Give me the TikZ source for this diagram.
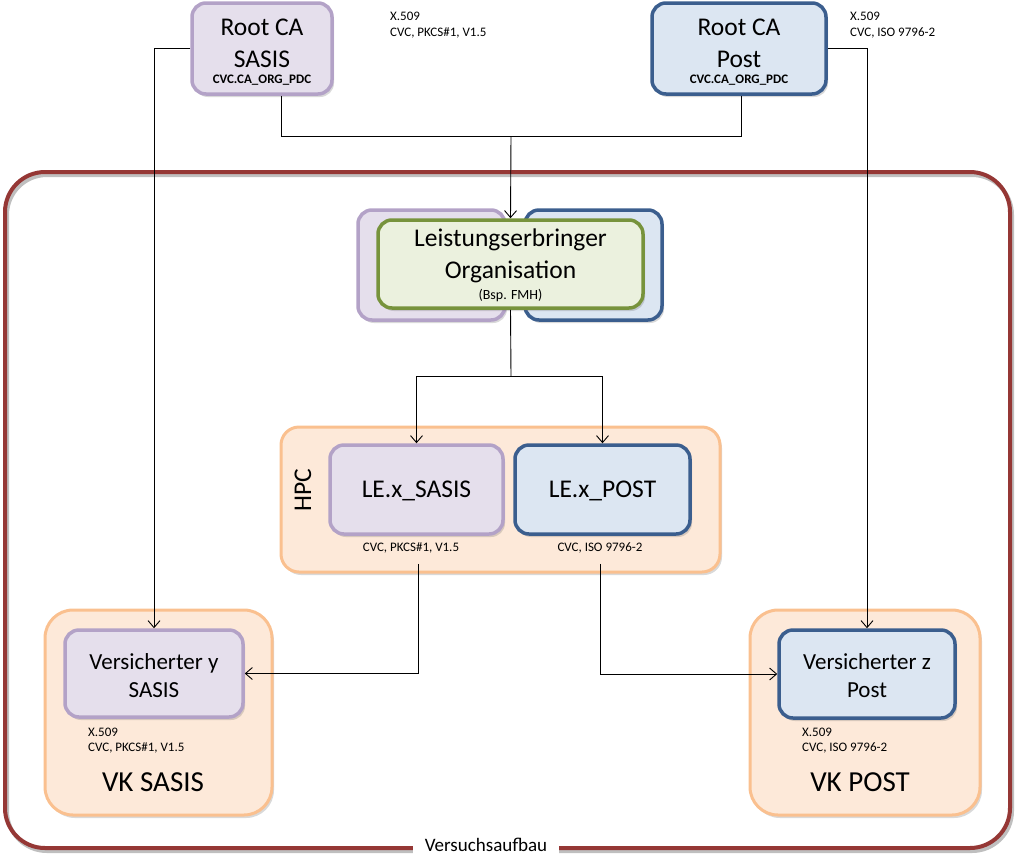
\documentclass[tikz,border=0pt]{standalone}
\usepackage{fontspec}
\setmainfont{Carlito}
\usetikzlibrary{arrows.meta,shadows}
\definecolor{pfill}{HTML}{E5DFEC}
\definecolor{pline}{HTML}{B3A2C7}
\definecolor{bfill}{HTML}{DCE6F2}
\definecolor{bline}{HTML}{3B5E8E}
\definecolor{gfill}{HTML}{EBF1DE}
\definecolor{gline}{HTML}{77933C}
\definecolor{ofill}{HTML}{FDE9D9}
\definecolor{oline}{HTML}{FAC08F}
\definecolor{rline}{HTML}{953735}
\tikzset{
  shad/.style={drop shadow={shadow xshift=2pt,shadow yshift=-3pt,opacity=0.25,fill=black!60}},
  boxS/.style={draw=pline,fill=pfill,line width=3.5pt,rounded corners=14pt,shad},
  boxP/.style={draw=bline,fill=bfill,line width=3.5pt,rounded corners=14pt,shad},
  boxG/.style={draw=gline,fill=gfill,line width=3.5pt,rounded corners=14pt,shad},
  boxO/.style={draw=oline,fill=ofill,line width=3pt,rounded corners=22pt,shad},
  big/.style={align=center,font=\fontsize{25.5}{32}\selectfont,inner sep=0pt},
  mid/.style={align=center,font=\fontsize{23}{28}\selectfont,inner sep=0pt},
  sml/.style={align=left,font=\fontsize{13}{16}\selectfont,inner sep=0pt},
  smb/.style={font=\fontsize{13}{15}\selectfont\bfseries,inner sep=0pt},
  arr/.style={-{Straight Barb[length=7pt,width=12pt]},line width=0.9pt},
  conn/.style={line width=0.9pt},
}
\begin{document}
\begin{tikzpicture}[x=1pt,y=-1pt]
\useasboundingbox (0,0) rectangle (1015,855);
% outer frame
\draw[black!25,line width=4pt,rounded corners=40pt] (7,175) rectangle (1012,851);
\draw[rline,line width=4pt,rounded corners=40pt] (5,172) rectangle (1010,848);
\node[fill=white,font=\fontsize{19}{22}\selectfont,inner xsep=12pt,inner ysep=3pt] (vers) at (486,845) {Versuchsaufbau};
% root CAs
\node[boxS,minimum width=140pt,minimum height=91pt] (rootS) at (262,48.5) {};
\node[big] (rootSt) at (262,43) {Root CA\\SASIS};
\node[smb] (rootSs) at (262,80) {CVC.CA\_ORG\_PDC};
\node[sml,anchor=north west] (rootSc) at (390,12) {X.509\\CVC, PKCS\#1, V1.5};
\node[boxP,minimum width=174pt,minimum height=91pt] (rootP) at (739,48.5) {};
\node[big] (rootPt) at (739,43) {Root CA\\Post};
\node[smb] (rootPs) at (739,80) {CVC.CA\_ORG\_PDC};
\node[sml,anchor=north west] (rootPc) at (850,12) {X.509\\CVC, ISO 9796-2};
% organisation
\node[boxS,minimum width=147pt,minimum height=110pt] (orgS) at (431.5,265) {};
\node[boxP,minimum width=137pt,minimum height=110pt] (orgP) at (593.5,265) {};
\node[boxG,minimum width=265pt,minimum height=88pt] (org) at (510.5,264) {};
\node[big] (orgt) at (510.5,256) {Leistungserbringer\\Organisation};
\node[font=\fontsize{14}{16}\selectfont,inner sep=0pt] (orgs) at (510.5,296) {(Bsp. FMH)};
% HPC
\node[boxO,minimum width=439pt,minimum height=145pt,rounded corners=18pt] (hpc) at (500.5,499.5) {};
\node[big,rotate=90] (hpct) at (303,490) {HPC};
\node[boxS,minimum width=173pt,minimum height=89pt] (lexS) at (416.5,489.5) {};
\node[big] (lexSt) at (416.5,491) {LE.x\_SASIS};
\node[boxP,minimum width=175pt,minimum height=89pt] (lexP) at (602.5,489.5) {};
\node[big] (lexPt) at (602.5,491) {LE.x\_POST};
\node[sml] (lexSc) at (411,548) {CVC, PKCS\#1, V1.5};
\node[sml] (lexPc) at (600,548) {CVC, ISO 9796-2};
% VK SASIS
\node[boxO,minimum width=227pt,minimum height=205pt,rounded corners=28pt] (vkS) at (158.5,712.5) {};
\node[boxS,minimum width=178pt,minimum height=87pt] (versY) at (154,673.5) {};
\node[mid] (versYt) at (154,676) {Versicherter y\\SASIS};
\node[sml,anchor=north west,font=\fontsize{13}{15}\selectfont] (versYc) at (88,728) {X.509\\CVC, PKCS\#1, V1.5};
\node[big,font=\fontsize{29}{32}\selectfont] (vkSt) at (153,782) {VK SASIS};
% VK POST
\node[boxO,minimum width=230pt,minimum height=205pt,rounded corners=28pt] (vkP) at (865,712.5) {};
\node[boxP,minimum width=176pt,minimum height=88pt] (versZ) at (867,674) {};
\node[mid] (versZt) at (867,676) {Versicherter z\\Post};
\node[sml,anchor=north west,font=\fontsize{13}{15}\selectfont] (versZc) at (802,728) {X.509\\CVC, ISO 9796-2};
\node[big,font=\fontsize{29}{32}\selectfont] (vkPt) at (860,782) {VK POST};
% connectors
\coordinate (j1) at (511,136);
\coordinate (j2) at (511,376);
\draw[arr] (rootS.west) -| (versY.north);
\draw[arr] (rootP.east) -| (versZ.north);
\draw[conn] ([xshift=19pt]rootS.south) |- (j1);
\draw[conn] ([xshift=2pt]rootP.south) |- (j1);
\draw[arr] (j1) -- (org.north);
\draw[conn] (org.south) -- (j2);
\draw[arr] (j2) -| (lexS.north);
\draw[arr] (j2) -| (lexP.north);
\draw[arr] ([xshift=1.5pt,yshift=-28pt]lexS.south) |- (versY.east);
\draw[arr] ([xshift=-2.5pt,yshift=-28pt]lexP.south) |- (versZ.west);
\end{tikzpicture}
\end{document}
